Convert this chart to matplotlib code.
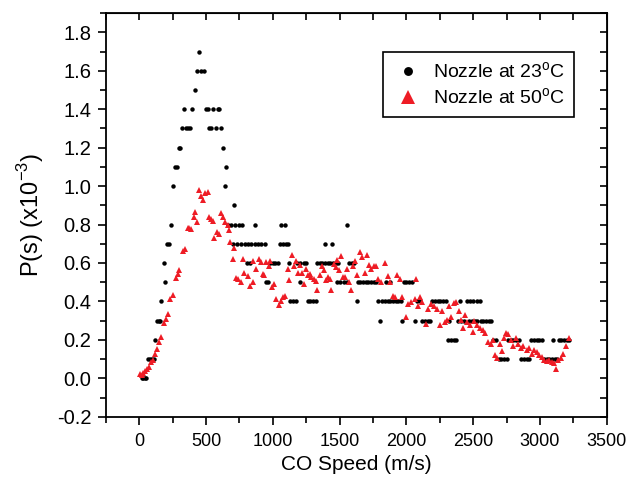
import matplotlib
matplotlib.use("Agg")
import matplotlib.pyplot as plt
from matplotlib.ticker import MultipleLocator

plt.rcParams['font.family'] = ['Liberation Sans', 'DejaVu Sans']
plt.rcParams['mathtext.fontset'] = 'custom'
plt.rcParams['mathtext.rm'] = 'Liberation Sans'

# nozzle at 23 C (black dots), P(s) in units of 1e-3
speed_23 = [
    20, 30, 40, 50, 65, 80, 95, 110, 120, 130, 145, 157, 165, 182, 195, 208, 225, 240, 253, 268,
    282, 295, 308, 322, 337, 352, 368, 378, 397, 418, 430, 445, 460, 485, 500, 512, 525, 540, 552, 575,
    590, 600, 612, 625, 640, 652, 665, 690, 700, 712, 720, 735, 745, 760, 770, 790, 805, 815, 830, 840,
    865, 870, 890, 915, 940, 950, 965, 980, 1000, 1020, 1040, 1055, 1065, 1075, 1095, 1100, 1115, 1125, 1130, 1150,
    1170, 1180, 1200, 1205, 1230, 1250, 1260, 1280, 1300, 1320, 1330, 1350, 1370, 1388, 1390, 1410, 1430, 1442, 1450, 1470,
    1480, 1490, 1505, 1530, 1553, 1555, 1570, 1590, 1610, 1628, 1635, 1655, 1675, 1695, 1715, 1735, 1755, 1775, 1785, 1800,
    1815, 1840, 1850, 1860, 1875, 1880, 1900, 1920, 1940, 1960, 1965, 1980, 2000, 2020, 2045, 2062, 2080, 2100, 2120, 2140,
    2160, 2180, 2195, 2215, 2235, 2255, 2275, 2295, 2315, 2320, 2335, 2355, 2375, 2390, 2400, 2410, 2430, 2450, 2470, 2475,
    2490, 2500, 2510, 2525, 2530, 2550, 2555, 2575, 2595, 2615, 2635, 2650, 2670, 2690, 2710, 2730, 2750, 2760, 2780, 2800,
    2820, 2845, 2860, 2880, 2900, 2920, 2935, 2955, 2975, 2995, 3015, 3030, 3050, 3070, 3090, 3100, 3110, 3125, 3140, 3160,
    3180, 3200, 3215]
p_23 = [
    0.0, 0.0, 0.0, 0.0, 0.1, 0.1, 0.1, 0.1, 0.2, 0.3, 0.3, 0.3, 0.4, 0.6, 0.5, 0.7, 0.7, 0.8, 1.0, 1.1,
    1.1, 1.2, 1.2, 1.3, 1.4, 1.3, 1.3, 1.3, 1.4, 1.5, 1.6, 1.7, 1.6, 1.6, 1.4, 1.4, 1.3, 1.3, 1.4, 1.3,
    1.4, 1.4, 1.3, 1.2, 1.0, 1.1, 0.8, 0.8, 0.7, 0.9, 0.8, 0.7, 0.8, 0.7, 0.8, 0.7, 0.6, 0.7, 0.6, 0.7,
    0.7, 0.8, 0.7, 0.7, 0.7, 0.5, 0.5, 0.6, 0.6, 0.6, 0.6, 0.7, 0.8, 0.7, 0.8, 0.7, 0.7, 0.6, 0.4, 0.4,
    0.4, 0.6, 0.5, 0.6, 0.6, 0.6, 0.4, 0.4, 0.4, 0.4, 0.6, 0.6, 0.6, 0.7, 0.6, 0.6, 0.6, 0.7, 0.6, 0.6,
    0.5, 0.6, 0.5, 0.5, 0.8, 0.5, 0.6, 0.6, 0.6, 0.4, 0.5, 0.5, 0.5, 0.5, 0.5, 0.5, 0.5, 0.5, 0.4, 0.3,
    0.4, 0.4, 0.5, 0.4, 0.5, 0.4, 0.4, 0.4, 0.4, 0.4, 0.3, 0.5, 0.5, 0.5, 0.5, 0.3, 0.4, 0.4, 0.3, 0.3,
    0.3, 0.3, 0.4, 0.4, 0.4, 0.4, 0.4, 0.4, 0.2, 0.3, 0.2, 0.2, 0.2, 0.3, 0.4, 0.3, 0.3, 0.4, 0.3, 0.4,
    0.3, 0.4, 0.3, 0.4, 0.3, 0.4, 0.3, 0.3, 0.3, 0.3, 0.3, 0.2, 0.2, 0.1, 0.1, 0.1, 0.1, 0.2, 0.2, 0.2,
    0.2, 0.2, 0.1, 0.1, 0.1, 0.1, 0.2, 0.2, 0.2, 0.2, 0.2, 0.1, 0.1, 0.1, 0.1, 0.2, 0.1, 0.1, 0.2, 0.2,
    0.2, 0.2, 0.2]

# nozzle at 50 C (red triangles)
speed_50 = [
    8, 20, 30, 45, 58, 75, 90, 100, 120, 132, 145, 163, 182, 200, 212, 230, 255, 275, 288, 300,
    325, 343, 362, 375, 390, 407, 420, 432, 445, 462, 480, 495, 512, 520, 537, 550, 562, 580, 595, 612,
    625, 643, 662, 670, 682, 700, 713, 725, 743, 763, 775, 788, 813, 833, 850, 853, 875, 895, 912, 925,
    937, 950, 970, 980, 995, 1012, 1025, 1043, 1063, 1080, 1095, 1115, 1125, 1142, 1157, 1175, 1188, 1200, 1218, 1232,
    1245, 1262, 1275, 1288, 1305, 1320, 1332, 1350, 1370, 1380, 1395, 1412, 1425, 1437, 1455, 1470, 1480, 1495, 1512, 1525,
    1543, 1555, 1570, 1588, 1600, 1617, 1633, 1650, 1670, 1688, 1707, 1720, 1737, 1755, 1770, 1787, 1812, 1838, 1862, 1880,
    1900, 1912, 1930, 1950, 1970, 1995, 2012, 2037, 2062, 2075, 2087, 2105, 2120, 2145, 2162, 2187, 2207, 2230, 2250, 2270,
    2287, 2305, 2320, 2337, 2355, 2375, 2395, 2412, 2425, 2442, 2457, 2475, 2495, 2505, 2525, 2550, 2570, 2587, 2612, 2637,
    2650, 2667, 2682, 2700, 2712, 2730, 2745, 2762, 2780, 2800, 2820, 2838, 2855, 2875, 2900, 2920, 2937, 2955, 2975, 2995,
    3012, 3030, 3050, 3070, 3087, 3105, 3120, 3137, 3155, 3175, 3195, 3215]
p_50 = [
    0.02, 0.015, 0.025, 0.04, 0.05, 0.06, 0.085, 0.094, 0.125, 0.15, 0.19, 0.215, 0.285, 0.31, 0.335, 0.415, 0.435, 0.52, 0.54, 0.565,
    0.66, 0.675, 0.78, 0.78, 0.775, 0.84, 0.865, 0.815, 0.98, 0.95, 0.93, 0.965, 0.967, 0.84, 0.83, 0.82, 0.73, 0.76, 0.75, 0.86,
    0.84, 0.815, 0.80, 0.77, 0.71, 0.62, 0.68, 0.52, 0.515, 0.50, 0.62, 0.55, 0.53, 0.48, 0.50, 0.61, 0.57, 0.62, 0.605, 0.54,
    0.535, 0.605, 0.583, 0.61, 0.475, 0.488, 0.415, 0.38, 0.403, 0.423, 0.427, 0.57, 0.51, 0.64, 0.583, 0.61, 0.55, 0.59, 0.55, 0.49,
    0.57, 0.535, 0.545, 0.525, 0.515, 0.507, 0.46, 0.535, 0.583, 0.562, 0.51, 0.525, 0.515, 0.46, 0.597, 0.577, 0.615, 0.562, 0.635, 0.528,
    0.528, 0.566, 0.50, 0.458, 0.583, 0.61, 0.535, 0.655, 0.63, 0.548, 0.64, 0.59, 0.566, 0.583, 0.583, 0.514, 0.50, 0.60, 0.53, 0.50,
    0.427, 0.423, 0.536, 0.514, 0.423, 0.32, 0.387, 0.397, 0.41, 0.514, 0.375, 0.423, 0.397, 0.28, 0.363, 0.389, 0.375, 0.363, 0.276, 0.35,
    0.293, 0.305, 0.375, 0.32, 0.392, 0.397, 0.35, 0.305, 0.264, 0.328, 0.293, 0.276, 0.241, 0.30, 0.276, 0.264, 0.253, 0.236, 0.19, 0.18,
    0.20, 0.12, 0.108, 0.177, 0.142, 0.207, 0.236, 0.229, 0.20, 0.167, 0.207, 0.177, 0.155, 0.167, 0.146, 0.16, 0.128, 0.149, 0.137, 0.12,
    0.111, 0.097, 0.09, 0.097, 0.085, 0.08, 0.05, 0.097, 0.108, 0.128, 0.167, 0.212]

x_ticks = [0, 500, 1000, 1500, 2000, 2500, 3000, 3500]
y_ticks = [-0.2, 0.0, 0.2, 0.4, 0.6, 0.8, 1.0, 1.2, 1.4, 1.6, 1.8]

fig = plt.figure(figsize=(6.26, 4.84), dpi=100)
ax = fig.add_axes([0.169, 0.139, 0.8003, 0.834])

ax.plot(speed_23, p_23, 'o', color='black', markersize=3.2, markeredgewidth=0,
        label='Nozzle at 23$^{\\mathrm{o}}$C')
ax.plot(speed_50, p_50, '^', color='#ee1c25', markersize=4.8, markeredgewidth=0,
        label='Nozzle at 50$^{\\mathrm{o}}$C')

ax.set_xlim(-250, 3500)
ax.set_ylim(-0.2, 1.9)
ax.set_xticks(x_ticks)
ax.set_yticks(y_ticks)
ax.set_yticklabels(['%.1f' % v for v in y_ticks])
ax.xaxis.set_minor_locator(MultipleLocator(250))
ax.yaxis.set_minor_locator(MultipleLocator(0.1))
ax.tick_params(which='major', direction='out', length=6, width=1.2)
ax.tick_params(which='minor', direction='out', length=4, width=1.2)
ax.tick_params(axis='x', which='major', pad=5.5, labelsize=13)
ax.tick_params(axis='y', which='major', pad=4.5, labelsize=14.5)

for s in ax.spines.values():
    s.set_linewidth(1.3)

# top and right ticks point inward, no labels
top = ax.secondary_xaxis('top')
top.set_xticks(x_ticks)
top.xaxis.set_minor_locator(MultipleLocator(250))
top.tick_params(which='both', direction='in', length=5, width=1.2, labeltop=False)
right = ax.secondary_yaxis('right')
right.set_yticks(y_ticks)
right.yaxis.set_minor_locator(MultipleLocator(0.1))
right.tick_params(which='both', direction='in', length=5, width=1.2, labelright=False)

ax.set_xlabel('CO Speed (m/s)', fontsize=15, labelpad=4)
ax.set_ylabel('P(s) (x10$^{-3}$)', fontsize=17, labelpad=8)

leg = ax.legend(loc='upper right', bbox_to_anchor=(0.934, 0.903), borderaxespad=0,
                fancybox=False, edgecolor='black', framealpha=1, fontsize=14,
                markerscale=2.0, handlelength=1.6, handletextpad=0.5,
                borderpad=0.45, labelspacing=0.3)
leg.get_frame().set_linewidth(1.2)

fig.savefig('out.png', dpi=100)
